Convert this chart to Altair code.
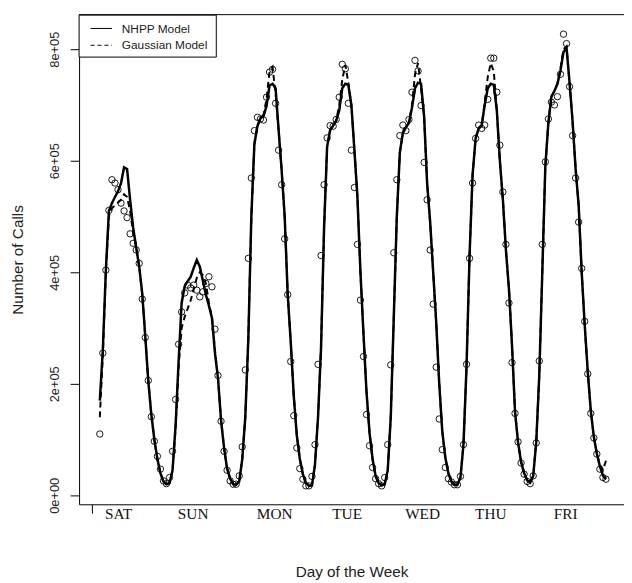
import altair as alt
import pandas as pd

# hourly index over the week (0..167)
hours = list(range(168))

# observed hourly call counts (thousands)
observed = [110, 255, 404, 511, 566, 560, 548, 524, 510, 498, 469, 452, 440, 416, 352, 283, 206, 141, 97, 70,
            47, 26, 21, 32, 79, 172, 271, 329, 363, 377, 372, 377, 368, 356, 365, 380, 392, 374, 298, 215,
            133, 79, 45, 26, 20, 20, 35, 87, 225, 425, 569, 654, 678, 675, 673, 714, 759, 764, 703, 619,
            557, 460, 360, 240, 143, 85, 48, 29, 17, 17, 34, 91, 235, 430, 557, 641, 663, 662, 674, 714,
            773, 765, 703, 619, 552, 450, 350, 249, 145, 89, 50, 30, 21, 17, 32, 91, 234, 435, 566, 645,
            664, 654, 674, 723, 780, 761, 699, 597, 530, 440, 343, 230, 137, 82, 50, 30, 24, 19, 19, 34,
            91, 235, 425, 560, 640, 664, 658, 664, 710, 784, 784, 723, 628, 544, 450, 345, 238, 147, 96, 58,
            38, 25, 21, 35, 94, 241, 450, 598, 675, 705, 700, 715, 755, 827, 810, 733, 645, 569, 490, 407,
            312, 218, 147, 103, 74, 47, 32, 29]

# NHPP model fit (thousands)
nhpp = [170, 262, 404, 510, 524, 535, 545, 560, 588, 585, 530, 480, 445, 410, 362, 285, 205, 145, 100, 65,
        40, 25, 20, 22, 45, 125, 240, 345, 375, 384, 392, 408, 422, 410, 385, 360, 340, 318, 255, 210,
        135, 85, 48, 30, 20, 19, 25, 65, 140, 280, 500, 630, 662, 676, 680, 698, 735, 738, 730, 655,
        583, 500, 360, 275, 178, 108, 65, 38, 22, 17, 18, 55, 140, 265, 480, 625, 655, 663, 672, 690,
        730, 738, 736, 700, 620, 535, 400, 290, 185, 112, 65, 35, 22, 18, 20, 45, 140, 320, 500, 615,
        650, 660, 668, 695, 730, 740, 738, 680, 560, 490, 400, 310, 200, 115, 68, 40, 25, 19, 19, 32,
        92, 230, 430, 575, 640, 658, 663, 700, 730, 738, 736, 690, 600, 530, 440, 370, 270, 150, 95, 60,
        40, 27, 23, 35, 95, 215, 400, 590, 668, 715, 725, 738, 762, 795, 802, 740, 670, 585, 520, 400,
        305, 222, 152, 105, 75, 52, 36, 29]

# Gaussian model fit (thousands)
gauss = [140, 250, 400, 500, 515, 520, 525, 530, 540, 535, 510, 470, 445, 410, 360, 285, 205, 145, 100, 65,
         40, 25, 20, 22, 45, 120, 230, 300, 320, 335, 350, 370, 390, 400, 395, 380, 345, 320, 260, 210,
         135, 85, 48, 30, 20, 19, 25, 65, 140, 280, 500, 630, 662, 676, 682, 710, 760, 768, 720, 655,
         583, 500, 360, 275, 178, 108, 65, 38, 22, 17, 18, 55, 140, 265, 480, 625, 655, 663, 672, 700,
         745, 772, 740, 700, 620, 535, 400, 290, 185, 112, 65, 35, 22, 18, 20, 45, 140, 320, 500, 615,
         650, 660, 668, 700, 755, 775, 730, 680, 560, 490, 400, 310, 200, 115, 68, 40, 25, 19, 19, 32,
         92, 230, 430, 575, 640, 658, 663, 705, 750, 775, 760, 690, 600, 530, 440, 370, 270, 150, 95, 60,
         40, 27, 23, 35, 95, 215, 400, 590, 668, 715, 725, 738, 765, 800, 805, 740, 670, 585, 520, 400,
         305, 222, 152, 105, 75, 55, 45, 62]

# day labels and their positions (hours)
days = ["SAT", "SUN", "MON", "TUE", "WED", "THU", "FRI"]
day_pos = [6.2, 30.8, 57.7, 81.6, 106.5, 129.0, 153.7]

y_ticks = [0, 200000, 400000, 600000, 800000]
legend_labels = ["NHPP Model", "Gaussian Model"]

df = pd.DataFrame({
    "hour": hours,
    "obs": [v * 1000 for v in observed],
    "nhpp": [v * 1000 for v in nhpp],
    "gauss": [v * 1000 for v in gauss],
})
days_df = pd.DataFrame({"day": days, "pos": day_pos})
one = pd.DataFrame({"a": [0]})

W, H = 552, 496
xscale = alt.Scale(domain=[-6.84, 172.96], nice=False, zero=False)
yscale = alt.Scale(domain=[-16000, 862000], nice=False, zero=False)

x_axis = alt.Axis(values=[-2.5], labels=False, tickSize=9, tickColor="black", domainColor="black",
                  grid=False, title="Day of the Week", titleFont="Liberation Sans", titleFontSize=15.5,
                  titleFontWeight="normal", titleColor="#222222", titleX=276, titleY=73,
                  titleBaseline="alphabetic", titleAlign="center")
y_axis = alt.Axis(values=y_ticks,
                  labelExpr="datum.value == 0 ? '0e+00' : (datum.value / 100000) + 'e+05'",
                  labelAngle=270, labelAlign="center", labelBaseline="middle", labelPadding=16,
                  labelFont="Liberation Sans", labelFontSize=13, labelColor="#222222",
                  tickSize=9, tickColor="black", domainColor="black", grid=False,
                  title="Number of Calls", titleFont="Liberation Sans", titleFontSize=15.5,
                  titleFontWeight="normal", titleColor="#222222", titleX=-62, titleY=248,
                  titleAngle=270, titleAlign="center", titleBaseline="middle")

X = lambda f: alt.X(f, scale=xscale, axis=x_axis)
Y = lambda f: alt.Y(f, scale=yscale, axis=y_axis)

base = alt.Chart(df)

gauss_line = base.mark_line(color="black", strokeWidth=2, strokeDash=[6, 4]).encode(
    x=X("hour:Q"), y=Y("gauss:Q"))
nhpp_line = base.mark_line(color="black", strokeWidth=2.5).encode(
    x=X("hour:Q"), y=Y("nhpp:Q"))
points = base.mark_point(shape="circle", filled=False, size=42, stroke="black",
                         strokeWidth=0.9, opacity=1).encode(
    x=X("hour:Q"), y=Y("obs:Q"))

day_text = alt.Chart(days_df).mark_text(font="Liberation Serif", fontSize=15.5, align="center",
                                        baseline="middle", color="#111111").encode(
    x=X("pos:Q"),
    y=alt.value(505.7),
    text="day:N",
)

top_line = alt.Chart(one).mark_rule(color="black", strokeWidth=1).encode(
    x=alt.value(0), x2=alt.value(W), y=alt.value(0))

legend_box = alt.Chart(one).mark_rect(fill="white", stroke="black", strokeWidth=1).encode(
    x=alt.value(0), x2=alt.value(139), y=alt.value(0.5), y2=alt.value(43))
leg_solid = alt.Chart(one).mark_rule(color="black", strokeWidth=1).encode(
    x=alt.value(11.7), x2=alt.value(33.3), y=alt.value(14))
leg_dash = alt.Chart(one).mark_rule(color="black", strokeWidth=1, strokeDash=[4, 3]).encode(
    x=alt.value(11.7), x2=alt.value(33.3), y=alt.value(31))
leg_text1 = alt.Chart(one).mark_text(font="Liberation Sans", fontSize=12, align="left",
                                     baseline="middle", color="#222222", text=legend_labels[0]).encode(
    x=alt.value(43.3), y=alt.value(15))
leg_text2 = alt.Chart(one).mark_text(font="Liberation Sans", fontSize=12, align="left",
                                     baseline="middle", color="#222222", text=legend_labels[1]).encode(
    x=alt.value(43.3), y=alt.value(31))

chart = alt.layer(
    gauss_line, nhpp_line, points, day_text, top_line,
    legend_box, leg_solid, leg_dash, leg_text1, leg_text2,
).properties(
    width=W, height=H,
    autosize=alt.AutoSizeParams(type="none"),
    padding={"left": 72, "top": 3, "right": 0, "bottom": 76},
    background="white",
).configure_view(stroke=None)

chart.save("out.html", embed_options={"renderer": "svg", "actions": False})
